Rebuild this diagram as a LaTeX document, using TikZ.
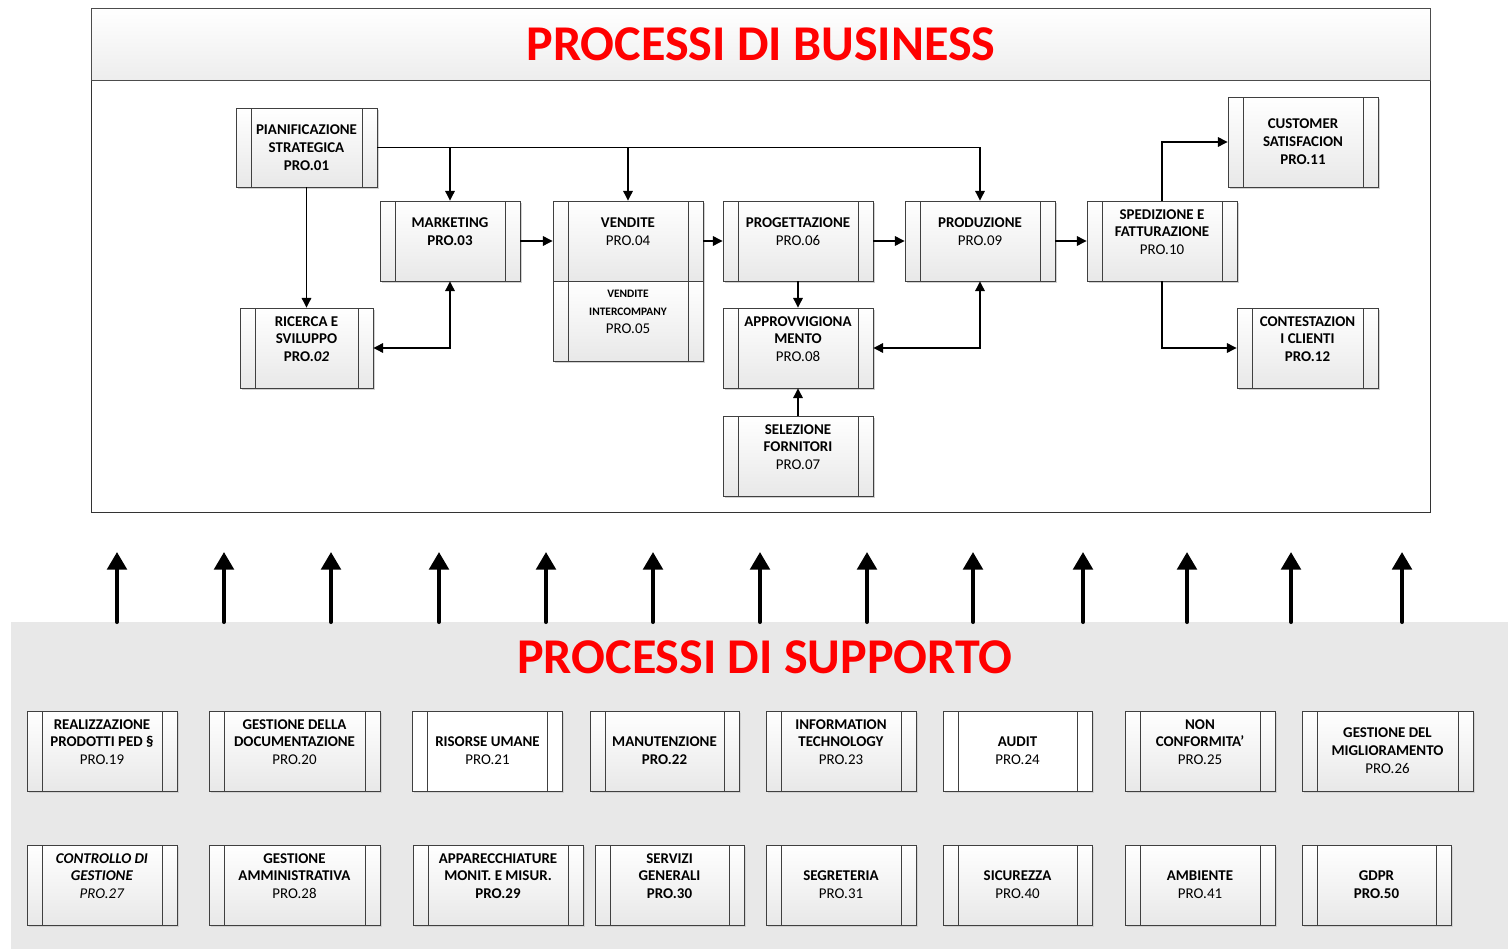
\documentclass[tikz,border=0pt]{standalone}
\usepackage{fontspec}
\setmainfont{Carlito}
\usetikzlibrary{arrows.meta, shadows}

\newcommand{\padline}{\\\mbox{}}

\tikzset{
  proc/.style={draw=black!75, line width=0.5pt, top color=white, bottom color=black!9,
    minimum width=3cm, minimum height=1.6cm, inner sep=0pt, align=center,
    font=\fontsize{8.5}{10.2}\selectfont,
    drop shadow={shadow xshift=0.9pt, shadow yshift=-0.9pt, fill=black!18, opacity=1},
    path picture={
      \draw[black!75, line width=0.5pt]
        ([xshift=0.3cm]path picture bounding box.north west) -- ([xshift=0.3cm]path picture bounding box.south west)
        ([xshift=-0.3cm]path picture bounding box.north east) -- ([xshift=-0.3cm]path picture bounding box.south east);
    }},
  conn/.style={draw, line width=0.6pt, -{Triangle[length=5.5pt,width=5.5pt]}},
  both/.style={conn, {Triangle[length=5.5pt,width=5.5pt]}-{Triangle[length=5.5pt,width=5.5pt]}},
  bigup/.style={line width=2.3pt, line cap=round, -{Triangle[length=10pt,width=11pt]}},
  bigtitle/.style={text=red, font=\fontsize{28.5}{32}\selectfont\bfseries},
}

\begin{document}
\begin{tikzpicture}[x=0.02cm, y=-0.02cm]
\useasboundingbox (0,0) rectangle (1508,949);

% business frame
\draw[black!80, line width=0.5pt, fill=white] (91,8) rectangle (1430,512);
\draw[black!70, line width=0.5pt, top color=white, bottom color=black!7] (91,8) rectangle (1430,80);
\node[bigtitle] (btitle) at (761,44) {PROCESSI DI BUSINESS};

\node[proc, minimum width=2.82cm, minimum height=1.58cm] (p01) at (306.5,147.5) {\textbf{PIANIFICAZIONE}\\\textbf{STRATEGICA}\\\textbf{PRO.01}};
\node[proc, minimum width=2.8cm] (p03) at (450,241) {\textbf{MARKETING}\\\textbf{PRO.03}\padline};
\node[proc] (p04) at (628,241) {\textbf{VENDITE}\\PRO.04\padline};
\node[proc] (p05) at (628,321) {{\fontsize{6.5}{8}\selectfont\textbf{VENDITE}}\\{\fontsize{6.5}{8}\selectfont\textbf{INTERCOMPANY}}\\PRO.05\padline};
\node[proc] (p06) at (798,241) {\textbf{PROGETTAZIONE}\\PRO.06\padline};
\node[proc] (p09) at (980,241) {\textbf{PRODUZIONE}\\PRO.09\padline};
\node[proc] (p10) at (1162,241) {\textbf{SPEDIZIONE E}\\\textbf{FATTURAZIONE}\\PRO.10\padline};
\node[proc, minimum height=1.8cm] (p11) at (1303,142) {\textbf{CUSTOMER}\\\textbf{SATISFACION}\\\textbf{PRO.11}};
\node[proc, minimum width=2.82cm] (p12) at (1307.5,348) {\textbf{CONTESTAZION}\\\textbf{I CLIENTI}\\\textbf{PRO.12}\padline};
\node[proc, minimum width=2.66cm] (p02) at (306.5,348) {\textbf{RICERCA E}\\\textbf{SVILUPPO}\\\textbf{PRO.\textit{02}}\padline};
\node[proc] (p08) at (798,348) {\textbf{APPROVVIGIONA}\\\textbf{MENTO}\\PRO.08\padline};
\node[proc] (p07) at (798,456) {\textbf{SELEZIONE}\\\textbf{FORNITORI}\\PRO.07\padline};

\draw[conn] (p01.east) -| (p09.north);
\draw[conn] (p01.east -| p03.north) -- (p03.north);
\draw[conn] (p01.east -| p04.north) -- (p04.north);
\draw[conn] (p01.south) -- (p02.north);
\draw[conn] (p03.east) -- (p04.west);
\draw[conn] (p04.east) -- (p06.west);
\draw[conn] (p06.east) -- (p09.west);
\draw[conn] (p09.east) -- (p10.west);
\draw[conn] (p06.south) -- (p08.north);
\draw[conn] (p07.north) -- (p08.south);
\draw[both] (p09.south) |- (p08.east);
\draw[both] (p03.south) |- (p02.east);
\draw[conn] (p10.north) |- (p11.west);
\draw[conn] (p10.south) |- (p12.west);

% support band
\fill[black!9] (11,622) rectangle (1508,949);
\node[bigtitle] (stitle) at (765,657) {PROCESSI DI SUPPORTO};

\foreach \x [count=\i] in {117,224,331,439,546,653,760,867,973,1083,1187,1291,1402} {
  \coordinate (s\i) at (\x,622);
  \coordinate (t\i) at (\x,552);
  \draw[bigup] (s\i) -- (t\i);
}

\node[proc] (p19) at (102,751) {\textbf{REALIZZAZIONE}\\\textbf{PRODOTTI PED §}\\PRO.19\padline};
\node[proc, minimum width=3.42cm] (p20) at (294.5,751) {\textbf{GESTIONE DELLA}\\\textbf{DOCUMENTAZIONE}\\PRO.20\padline};
\node[proc, top color=white, bottom color=white] (p21) at (487.5,751) {\textbf{RISORSE UMANE}\\PRO.21};
\node[proc, minimum width=2.98cm] (p22) at (664.5,751) {\textbf{MANUTENZIONE}\\\textbf{PRO.22}};
\node[proc] (p23) at (841,751) {\textbf{INFORMATION}\\\textbf{TECHNOLOGY}\\PRO.23\padline};
\node[proc, minimum width=2.98cm, top color=white, bottom color=white] (p24) at (1017.5,751) {\textbf{AUDIT}\\PRO.24};
\node[proc] (p25) at (1200,751) {\textbf{NON}\\\textbf{CONFORMITA’}\\PRO.25\padline};
\node[proc, minimum width=3.42cm] (p26) at (1387.5,751) {\textbf{GESTIONE DEL}\\\textbf{MIGLIORAMENTO}\\PRO.26};

\node[proc] (p27) at (102,885) {\textbf{\textit{CONTROLLO DI}}\\\textbf{\textit{GESTIONE}}\\\textit{PRO.27}\padline};
\node[proc, minimum width=3.42cm] (p28) at (294.5,885) {\textbf{GESTIONE}\\\textbf{AMMINISTRATIVA}\\PRO.28\padline};
\node[proc, minimum width=3.4cm] (p29) at (498,885) {\textbf{APPARECCHIATURE}\\\textbf{MONIT. E MISUR.}\\\textbf{PRO.29}\padline};
\node[proc, minimum width=2.98cm] (p30) at (669.5,885) {\textbf{SERVIZI}\\\textbf{GENERALI}\\\textbf{PRO.30}\padline};
\node[proc] (p31) at (841,885) {\textbf{SEGRETERIA}\\PRO.31};
\node[proc, minimum width=2.98cm] (p40) at (1017.5,885) {\textbf{SICUREZZA}\\PRO.40};
\node[proc] (p41) at (1200,885) {\textbf{AMBIENTE}\\PRO.41};
\node[proc, minimum width=2.98cm] (p50) at (1376.5,885) {\textbf{GDPR}\\\textbf{PRO.50}};

\end{tikzpicture}
\end{document}
